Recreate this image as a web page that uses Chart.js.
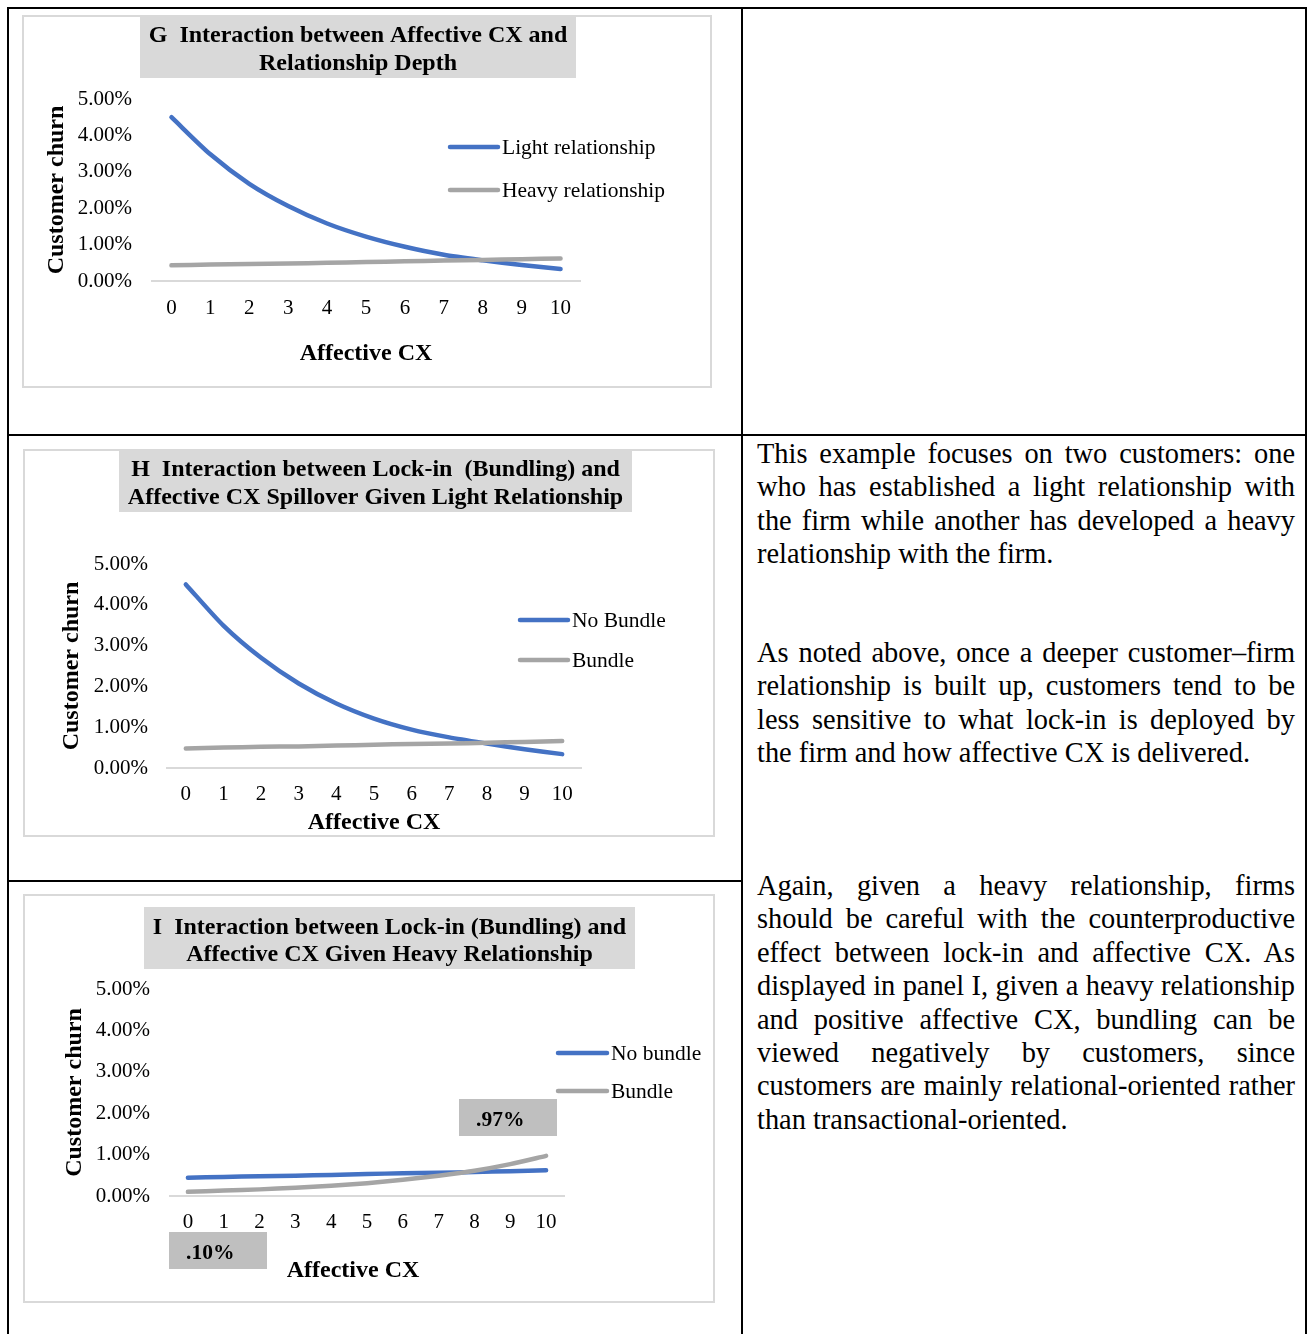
<!DOCTYPE html>
<html><head><meta charset="utf-8">
<script src="https://cdn.jsdelivr.net/npm/chart.js@4.4.1/dist/chart.umd.min.js"></script>
<style>
html,body{margin:0;padding:0;background:#fff;}
body{width:1309px;height:1334px;position:relative;overflow:hidden;font-family:'Liberation Serif','Times New Roman',serif;}
.ln{position:absolute;background:#000;}
.box{position:absolute;}
.box canvas{position:absolute;left:0;top:0;}
.frame{position:absolute;border:2px solid #d9d9d9;box-sizing:border-box;pointer-events:none;}
.para{position:absolute;left:757px;width:538px;font-size:28.4px;color:#000;}
.para div{height:33.4px;line-height:33.4px;text-align:justify;text-align-last:justify;}
.para div.last{text-align:left;text-align-last:left;}
</style></head>
<body>
<div class="ln" style="left:7px;top:7px;width:1300px;height:2px"></div>
<div class="ln" style="left:7px;top:7px;width:2px;height:1327px"></div>
<div class="ln" style="left:1305px;top:7px;width:2px;height:1327px"></div>
<div class="ln" style="left:741px;top:7px;width:2px;height:1327px"></div>
<div class="ln" style="left:7px;top:434px;width:1300px;height:2px"></div>
<div class="ln" style="left:7px;top:880px;width:736px;height:2px"></div>

<div class="box" style="left:22px;top:15px;width:690px;height:373px"><canvas id="cG" width="690" height="373"></canvas></div>
<div class="frame" style="left:22px;top:15px;width:690px;height:373px"></div>
<div class="box" style="left:23px;top:449px;width:692px;height:388px"><canvas id="cH" width="692" height="388"></canvas></div>
<div class="frame" style="left:23px;top:449px;width:692px;height:388px"></div>
<div class="box" style="left:23px;top:894px;width:692px;height:409px"><canvas id="cI" width="692" height="409"></canvas></div>
<div class="frame" style="left:23px;top:894px;width:692px;height:409px"></div>

<div class="para" style="top:437px">
<div>This example focuses on two customers: one</div>
<div>who has established a light relationship with</div>
<div>the firm while another has developed a heavy</div>
<div class="last">relationship with the firm.</div>
</div>
<div class="para" style="top:636px">
<div>As noted above, once a deeper customer–firm</div>
<div>relationship is built up, customers tend to be</div>
<div>less sensitive to what lock-in is deployed by</div>
<div class="last">the firm and how affective CX is delivered.</div>
</div>
<div class="para" style="top:869px">
<div>Again, given a heavy relationship, firms</div>
<div>should be careful with the counterproductive</div>
<div>effect between lock-in and affective CX. As</div>
<div>displayed in panel I, given a heavy relationship</div>
<div>and positive affective CX, bundling can be</div>
<div>viewed negatively by customers, since</div>
<div>customers are mainly relational-oriented rather</div>
<div class="last">than transactional-oriented.</div>
</div>

<script>
// ---- data ----
const affectiveCX = ['0','1','2','3','4','5','6','7','8','9','10'];
const churnTicksMax = 5;
const gTitle = ['G  Interaction between Affective CX and', 'Relationship Depth'];
const gLabels = ['Light relationship', 'Heavy relationship'];
const gLight = [4.50, 3.48, 2.67, 2.06, 1.58, 1.22, 0.94, 0.72, 0.57, 0.44, 0.33];
const gHeavy = [0.43, 0.45, 0.47, 0.48, 0.50, 0.52, 0.54, 0.56, 0.58, 0.60, 0.62];
const hTitle = ['H  Interaction between Lock-in  (Bundling) and', 'Affective CX Spillover Given Light Relationship'];
const hLabels = ['No Bundle', 'Bundle'];
const hNoBundle = [4.50, 3.49, 2.70, 2.07, 1.58, 1.21, 0.94, 0.75, 0.60, 0.46, 0.34];
const hBundle = [0.48, 0.50, 0.52, 0.53, 0.55, 0.57, 0.59, 0.60, 0.62, 0.64, 0.66];
const iTitle = ['I  Interaction between Lock-in (Bundling) and', 'Affective CX Given Heavy Relationship'];
const iLabels = ['No bundle', 'Bundle'];
const iNoBundle = [0.44, 0.46, 0.48, 0.49, 0.51, 0.53, 0.55, 0.56, 0.58, 0.60, 0.62];
const iBundle = [0.10, 0.13, 0.16, 0.20, 0.25, 0.31, 0.39, 0.49, 0.61, 0.77, 0.97];
const yAxisTitle = 'Customer churn';
const xAxisTitle = 'Affective CX';

const BLUE = '#4472C4', GRAY = '#A5A5A5';
const FAM = "'Liberation Serif', 'Times New Roman', serif";

const decor = {
  id: 'decor',
  beforeDraw(chart, args, o) {
    const ctx = chart.ctx; ctx.save();
    ctx.fillStyle = '#d9d9d9';
    ctx.fillRect(o.tb[0], o.tb[1], o.tb[2], o.tb[3]);
    ctx.fillStyle = '#000';
    ctx.font = 'bold 24px ' + FAM;
    ctx.textAlign = 'center'; ctx.textBaseline = 'middle';
    o.title.forEach((t, i) => ctx.fillText(t, o.tx, o.ty[i]));
    if (o.xTitle) {
      ctx.fillText(xAxisTitle, o.xTitle[0], o.xTitle[1]);
    }
    ctx.restore();
  },
  afterDraw(chart, args, o) {
    const ctx = chart.ctx; ctx.save();
    chart.data.datasets.forEach((ds, i) => {
      const y = o.ly[i];
      ctx.strokeStyle = ds.borderColor; ctx.lineWidth = 4.5; ctx.lineCap = 'round';
      ctx.beginPath(); ctx.moveTo(o.lx[0], y); ctx.lineTo(o.lx[1], y); ctx.stroke();
      ctx.fillStyle = '#000'; ctx.font = '21.5px ' + FAM;
      ctx.textAlign = 'left'; ctx.textBaseline = 'middle';
      ctx.fillText(ds.label, o.lx[1] + 4, y + 1);
    });
    (o.notes || []).forEach(n => {
      ctx.fillStyle = '#bfbfbf';
      ctx.fillRect(n.box[0], n.box[1], n.box[2], n.box[3]);
      ctx.fillStyle = '#000'; ctx.font = 'bold 21.5px ' + FAM;
      ctx.textAlign = 'left'; ctx.textBaseline = 'middle';
      ctx.fillText(n.text, n.box[0] + 17, n.box[1] + n.box[3] / 2 + 3);
    });
    ctx.restore();
  }
};

const fmtNote = v => v.toFixed(2).replace(/^0/, '') + '%';

function makeChart(id, c) {
  return new Chart(document.getElementById(id), {
    type: 'line',
    data: {
      labels: affectiveCX,
      datasets: [
        { label: c.labels[0], data: c.s1, borderColor: BLUE, backgroundColor: BLUE, borderWidth: 4.5, pointRadius: 0, tension: 0.25, borderCapStyle: 'round', order: 1, fill: false },
        { label: c.labels[1], data: c.s2, borderColor: GRAY, backgroundColor: GRAY, borderWidth: 4.5, pointRadius: 0, tension: 0.25, borderCapStyle: 'round', order: 0, fill: false }
      ]
    },
    plugins: [decor],
    options: {
      responsive: false, animation: false, devicePixelRatio: 1, events: [],
      layout: { padding: { left: 0, top: c.area.t, right: c.W - c.area.r, bottom: 0 } },
      plugins: {
        legend: { display: false }, tooltip: { enabled: false }, title: { display: false },
        decor: c.decor
      },
      scales: {
        x: {
          type: 'category', offset: true,
          grid: { display: false, drawTicks: false },
          border: { display: true, color: '#d9d9d9', width: 2 },
          ticks: { color: '#000', font: { family: FAM, size: 21, lineHeight: 1 }, padding: c.xTickPad, maxRotation: 0, autoSkip: false },
          title: { display: !c.decor.xTitle, text: xAxisTitle, color: '#000', font: { family: FAM, size: 24, weight: 'bold', lineHeight: 1 }, padding: { top: 0, bottom: c.xTitlePad } },
          afterFit(s) { s.height = c.H - c.area.b; }
        },
        y: {
          min: 0, max: churnTicksMax,
          grid: { display: false, drawTicks: false },
          border: { display: false },
          ticks: { stepSize: 1, color: '#000', font: { family: FAM, size: 21, lineHeight: 1 }, padding: c.yTickPad, callback: v => v.toFixed(2) + '%' },
          title: { display: true, text: yAxisTitle, color: '#000', font: { family: FAM, size: 24, weight: 'bold', lineHeight: 1 }, padding: { top: c.yTitlePad, bottom: 0 } },
          afterFit(s) { s.width = c.area.l; }
        }
      }
    }
  });
}

makeChart('cG', {
  W: 690, H: 373, area: { l: 130, t: 84, r: 558, b: 266 },
  xTickPad: 17, xTitlePad: 22, yTickPad: 20, yTitlePad: 23,
  labels: gLabels, s1: gLight, s2: gHeavy,
  decor: { tb: [118, 0, 436, 63], title: gTitle, tx: 336, ty: [21, 49], lx: [428, 476], ly: [132, 175] }
});
makeChart('cH', {
  W: 692, H: 388, area: { l: 144, t: 115, r: 558, b: 319 },
  xTickPad: 16, xTitlePad: 2, yTickPad: 19, yTitlePad: 37,
  labels: hLabels, s1: hNoBundle, s2: hBundle,
  decor: { tb: [96, 2, 513, 61], title: hTitle, tx: 352.5, ty: [21, 49], lx: [497, 545], ly: [171, 211] }
});
makeChart('cI', {
  W: 692, H: 409, area: { l: 147, t: 95, r: 541, b: 302 },
  xTickPad: 16, xTitlePad: 20, yTickPad: 20, yTitlePad: 40,
  labels: iLabels, s1: iNoBundle, s2: iBundle,
  decor: { tb: [121, 13, 491, 62], title: iTitle, tx: 366.5, ty: [34, 61], lx: [535, 584], ly: [159, 197],
    xTitle: [330, 377],
    notes: [
      { box: [436, 205, 98, 37], text: fmtNote(iBundle[iBundle.length - 1]) },
      { box: [146, 338, 98, 37], text: fmtNote(iBundle[0]) }
    ] }
});
</script>
</body></html>
